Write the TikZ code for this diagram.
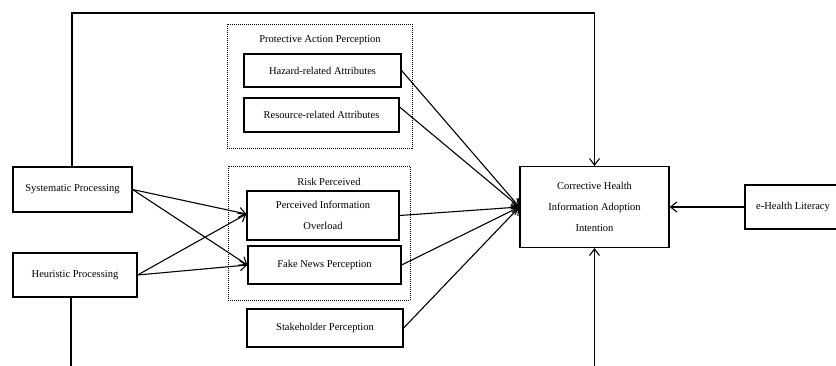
\documentclass[tikz,border=0pt]{standalone}
\usepackage{fontspec}
\setmainfont{Liberation Serif}
\usetikzlibrary{arrows.meta}
\begin{document}
\begin{tikzpicture}[x=1pt,y=-1pt,
  box/.style={draw,line width=1.2pt,inner sep=0pt,align=center,
    font=\fontsize{10.5}{21}\selectfont},
  grp/.style={draw,line width=0.8pt,dash pattern=on 1pt off 1pt},
  lbl/.style={font=\fontsize{10.5}{13}\selectfont,inner sep=0pt},
  arr/.style={line width=1.1pt,-{Straight Barb[length=6.5pt,width=10pt,line width=1.1pt]}},
  ln/.style={line width=1.1pt}]
\useasboundingbox (0,0) rectangle (836,365);
\clip (0,0) rectangle (836,365);
\fill[white] (0,0) rectangle (836,365);
% groups
\draw[grp] (227,24) rectangle (412,148);
\draw[grp] (228,166) rectangle (410,300);
\node[lbl] (lpap) at (320,40) {Protective Action Perception};
\node[lbl] (lrp) at (329,182) {Risk Perceived};
% boxes
\node[box,minimum width=119pt,minimum height=45pt] (sys) at (72.5,189.5) {Systematic Processing};
\node[box,minimum width=124pt,minimum height=44pt] (heu) at (75,275) {Heuristic Processing};
\node[box,minimum width=157pt,minimum height=33pt] (haz) at (322.5,70.5) {Hazard-related Attributes};
\node[box,minimum width=155pt,minimum height=34pt] (res) at (321.5,115) {Resource-related Attributes};
\node[box,minimum width=152pt,minimum height=49pt] (pio) at (323,215.5) {Perceived Information\\Overload};
\node[box,minimum width=153pt,minimum height=38pt] (fake) at (324.5,265) {Fake News Perception};
\node[box,minimum width=156pt,minimum height=38pt] (stake) at (325,328) {Stakeholder Perception};
\node[box,minimum width=149pt,minimum height=81pt] (corr) at (594.5,207) {Corrective Health\\Information Adoption\\Intention};
\node[box,minimum width=96pt,minimum height=44pt] (ehl) at (793,207) {e-Health Literacy};
% coordinates
\coordinate (tr) at (594.5,13);
\coordinate (hb) at (71,366);
\coordinate (cb) at (594.5,366);
% connectors
\draw[arr] ([xshift=-0.5pt]sys.north) |- (tr) -- (corr.north);
\draw[ln] ([xshift=-4pt]heu.south) -- (hb);
\draw[arr] (cb) -- (corr.south);
\draw[arr] (ehl.west) -- (corr.east);
\draw[arr] (haz.east) -- (corr.west);
\draw[arr] ([yshift=8pt]res.east) -- (corr.west);
\draw[arr] (pio.east) -- (corr.west);
\draw[arr] (fake.east) -- (corr.west);
\draw[arr] (stake.east) -- (corr.west);
\draw[arr] (sys.east) -- ([yshift=1.5pt]pio.west);
\draw[arr] (sys.east) -- (fake.west);
\draw[arr] (heu.east) -- ([yshift=1.5pt]pio.west);
\draw[arr] (heu.east) -- (fake.west);
\end{tikzpicture}
\end{document}
